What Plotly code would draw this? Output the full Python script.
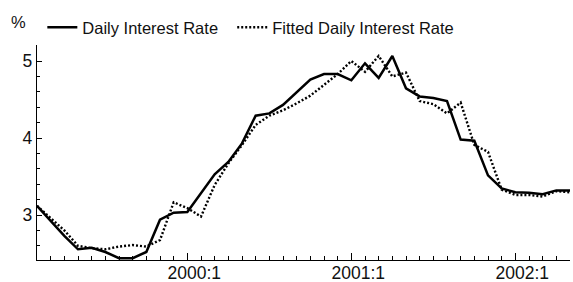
import plotly.graph_objects as go

# Monthly periods 1999:2 .. 2002:5
months = [f"{y}:{m}" for y in range(1999, 2003) for m in range(1, 13)]
months = months[months.index("1999:2"):months.index("2002:5") + 1]

daily_rate = [
    3.12, 2.92, 2.73, 2.555, 2.575, 2.52, 2.44, 2.44, 2.52, 2.94, 3.03,   # 1999:2-12
    3.04, 3.28, 3.53, 3.69, 3.93, 4.29, 4.32, 4.43, 4.60, 4.76, 4.83, 4.83,  # 2000
    4.75, 4.97, 4.78, 5.065, 4.645, 4.54, 4.52, 4.48, 3.98, 3.965, 3.515, 3.345,  # 2001
    3.295, 3.29, 3.27, 3.32, 3.32,  # 2002:1-5
]
fitted_rate = [
    3.12, 2.96, 2.80, 2.60, 2.57, 2.555, 2.59, 2.61, 2.59, 2.675, 3.165,
    3.09, 2.98, 3.39, 3.67, 3.91, 4.17, 4.29, 4.36, 4.45, 4.55, 4.69, 4.83,
    5.00, 4.86, 5.065, 4.80, 4.85, 4.48, 4.44, 4.32, 4.46, 3.91, 3.82, 3.33,
    3.26, 3.26, 3.24, 3.31, 3.295,
]
series_names = ["Daily Interest Rate", "Fitted Daily Interest Rate"]
tick_labels = ["2000:1", "2001:1", "2002:1"]
y_ticks = [3, 4, 5]

xpos = list(range(len(months)))
FONT = "Liberation Sans, Arial, Helvetica, sans-serif"

fig = go.Figure()
fig.add_trace(go.Scatter(x=xpos, y=daily_rate, mode="lines",
                         name=series_names[0] + "\u00a0\u00a0",
                         line=dict(color="black", width=2.5)))
fig.add_trace(go.Scatter(x=xpos, y=fitted_rate, mode="lines", name=series_names[1],
                         line=dict(color="black", width=2.4, dash="2px,2px")))

fig.update_layout(
    width=573, height=282,
    margin=dict(l=37, r=3, t=45, b=22),
    paper_bgcolor="white", plot_bgcolor="white",
    font=dict(family=FONT, size=16.5, color="#111"),
    showlegend=True,
    legend=dict(orientation="h", x=0.01, y=1.0, xanchor="left", yanchor="bottom",
                font=dict(size=16.5), bgcolor="rgba(0,0,0,0)"),
    annotations=[dict(text="%", xref="paper", yref="paper", x=-0.035, y=1.105,
                      xanchor="center", yanchor="middle", showarrow=False,
                      font=dict(size=16.5))],
)
fig.update_xaxes(
    range=[0, len(months) - 1], automargin=False,
    tickvals=[months.index(t) for t in tick_labels], ticktext=tick_labels,
    ticks="inside", ticklen=7, tickwidth=1, tickcolor="black",
    ticklabelshift=7, ticklabelstandoff=-3,
    showline=True, linecolor="black", linewidth=1.3,
    showgrid=False, zeroline=False,
    tickfont=dict(size=17.5),
    minor=dict(dtick=1, tick0=0, ticks="inside", ticklen=4, tickcolor="black", showgrid=False),
)
fig.update_yaxes(
    range=[2.416, 5.208], automargin=False,
    tickvals=y_ticks,
    ticks="inside", ticklen=5, tickwidth=1, tickcolor="black",
    showline=True, linecolor="black", linewidth=1.3,
    showgrid=False, zeroline=False,
    tickfont=dict(size=17.5),
    minor=dict(dtick=0.2, tick0=0, ticks="inside", ticklen=3, tickcolor="black", showgrid=False),
)
fig.write_html("out.html", config={"displayModeBar": False},
               post_script="document.body.style.margin='0';")
